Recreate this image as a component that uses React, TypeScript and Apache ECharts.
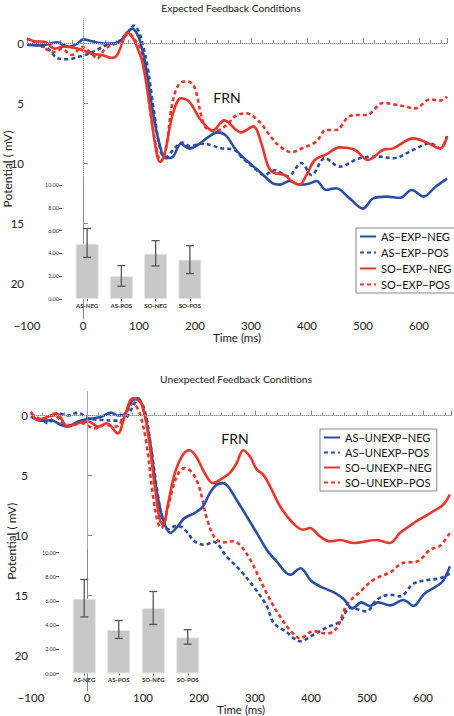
import React, { useEffect, useRef } from "react";
import * as echarts from "echarts";

const FONT = "Lato, 'Noto Sans', sans-serif";
const BLUE = "#2b4ea2";
const RED = "#e8372c";
const AXIS = "#8a8a8a";

// ---------- Expected feedback conditions: [time ms, potential µV] ----------
const expAsNeg = [[-100,0.15],[-80,0.2],[-62,0.1],[-47,-0.05],[-26,0.3],[-10,0.05],[0,-0.3],[16,-0.15],[30,0],[46,0.05],[60,0],[70,-0.3],[80,-0.9],[88,-1.2],[96,-0.8],[103,0],[112,1.9],[124,5.5],[136,8.3],[148,9.6],[160,9.5],[175,8.4],[190,8.8],[208,8.4],[225,7.8],[240,7.45],[255,7.7],[273,8.9],[291,9.75],[315,10.7],[339,11.7],[351,11.8],[369,11.5],[387,11.8],[405,11.7],[417,11.5],[434,12.25],[452,12.1],[476,12.95],[500,13.8],[518,12.95],[542,12.8],[566,12.9],[587,12.25],[608,12.8],[629,12.0],[650,11.3]];
const expAsPos = [[-100,0.15],[-80,0.2],[-62,0.5],[-44,1.3],[-26,1.35],[-8,1.15],[10,0.9],[28,0.5],[46,0.1],[60,0.0],[70,-0.4],[82,-1.0],[91,-1.45],[99,-1.0],[106,0],[115,1.9],[127,5.75],[139,9.1],[148,9.5],[163,8.8],[177,8.3],[192,8.6],[210,8.4],[228,8.5],[246,8.77],[270,8.9],[285,9.6],[303,10.3],[324,11.0],[342,10.6],[366,11.1],[390,10.0],[408,11.0],[432,9.6],[458,10.3],[494,9.6],[530,9.47],[554,9.6],[590,8.9],[620,8.36],[638,8.78],[650,7.75]];
const expSoNeg = [[-100,-0.36],[-86,-0.14],[-68,-0.1],[-50,0.47],[-36,0.3],[-26,0.33],[-8,0.47],[16,0.9],[34,1.0],[52,1.25],[61,1.0],[70,0],[79,-0.9],[88,-0.5],[94,0.05],[106,1.6],[118,4.9],[130,8.8],[137,9.9],[145,9.4],[160,6.0],[175,4.6],[190,4.9],[210,6.4],[232,7.3],[252,6.45],[282,7.45],[304,6.95],[318,8.3],[330,10.2],[340,10.8],[360,11.0],[375,11.6],[387,11.8],[399,11.0],[414,9.75],[434,9.3],[458,8.7],[485,8.9],[509,9.75],[536,8.9],[554,8.78],[590,7.95],[614,8.3],[638,8.78],[650,7.8]];
const expSoPos = [[-100,-0.36],[-80,0.05],[-68,0.47],[-50,0.75],[-38,0.5],[-20,1.0],[-2,0.33],[16,0.9],[25,1.3],[40,0.47],[58,0.05],[70,-0.3],[82,-0.8],[92,-0.3],[103,0.47],[112,2.7],[121,6.0],[133,9.2],[139,9.9],[148,8.8],[160,4.9],[172,3.4],[187,3.2],[199,3.67],[211,6.0],[220,7.1],[238,7.3],[255,6.9],[272,6.1],[291,5.86],[315,6.56],[333,7.67],[351,8.6],[372,9.1],[393,8.75],[417,8.2],[434,7.25],[452,7.25],[476,6.1],[494,6.0],[506,6.0],[536,5.0],[566,5.2],[593,5.45],[620,4.7],[638,4.8],[650,4.47]];

// ---------- Unexpected feedback conditions ----------
const unexpAsNeg = [[-100,0.1],[-82,0.43],[-64,0.4],[-46,0.8],[-34,0.93],[-16,0.5],[2,0.3],[26,0.1],[43,-0.24],[55,0],[67,-0.1],[79,-1.15],[91,-1.43],[100,-0.6],[112,2.0],[124,6.2],[136,8.7],[149,9.8],[162,9.26],[174,8.57],[192,8.15],[207,7.6],[219,6.5],[231,5.8],[243,5.65],[252,5.93],[267,7.04],[285,8.4],[303,9.8],[321,11.2],[339,12.2],[363,13.3],[381,12.75],[400,13.8],[416,14.26],[440,14.75],[458,15.3],[474,16.1],[490,15.6],[505,15.9],[520,15.6],[541,15.85],[565,15.4],[583,15.9],[602,14.9],[624,14.26],[636,13.8],[648,12.6]];
const unexpAsPos = [[-100,0.04],[-76,0.5],[-70,0.65],[-52,-0.18],[-34,0],[-16,-0.24],[2,0.24],[26,0.37],[49,0.43],[67,0.3],[85,-1.0],[91,-1.3],[103,-0.46],[115,2.9],[127,6.76],[136,9.0],[145,9.5],[160,9.2],[174,9.5],[192,10.5],[210,10.8],[226,10.55],[249,11.76],[273,12.9],[297,14.26],[321,15.9],[333,17.3],[357,18.1],[369,18.6],[381,18.85],[401,18.4],[428,17.7],[452,17.2],[470,16.06],[499,16.35],[517,15.4],[541,14.96],[559,15.1],[583,14.04],[613,13.7],[630,13.6],[648,13.2]];
const unexpSoNeg = [[-100,-0.3],[-88,0.37],[-70,0.1],[-55,-0.18],[-34,0.93],[-16,0.65],[2,0.5],[20,0.93],[35,0.65],[55,1.5],[67,0.1],[82,-1.43],[97,-1.0],[109,1.5],[121,5.9],[130,8.7],[136,9.1],[145,7.3],[157,4.8],[171,3.3],[183,2.9],[195,3.43],[210,4.8],[225,5.65],[240,5.3],[255,4.8],[267,4.0],[279,2.9],[291,3.43],[303,4.5],[315,4.96],[327,5.93],[345,7.6],[368,9.0],[386,9.54],[398,9.4],[416,10.1],[434,10.5],[452,10.4],[476,10.65],[517,10.4],[541,10.65],[559,9.8],[583,9.0],[613,8.15],[636,7.45],[648,6.6]];
const unexpSoPos = [[-100,-0.18],[-82,0.3],[-58,0],[-43,0.65],[-28,0.8],[-10,0.65],[14,1.07],[32,0.8],[52,0.93],[67,0],[82,-1.0],[94,-0.18],[106,2.3],[118,6.76],[127,9.0],[133,9.4],[145,7.6],[160,5.1],[174,4.4],[186,4.68],[198,5.65],[206,7.0],[214,8.6],[228,10.2],[243,10.6],[261,10.5],[273,10.8],[291,12.0],[309,13.7],[327,15.4],[345,16.8],[362,17.9],[381,18.6],[404,18.0],[428,18.2],[446,17.75],[464,15.8],[488,14.7],[512,13.7],[541,13.1],[565,12.3],[589,12.2],[613,11.2],[630,10.9],[648,9.8]];

// ---------- Inset bar charts ----------
const barCategories = ["AS-NEG", "AS-POS", "SO-NEG", "SO-POS"];
const expBarMeans = [4.85, 2.0, 3.98, 3.46];
const expBarLow = [3.65, 1.12, 2.9, 2.23];
const expBarHigh = [6.18, 2.93, 5.12, 4.68];
const unexpBarMeans = [6.17, 3.6, 5.4, 2.98];
const unexpBarLow = [4.68, 2.9, 4.05, 2.42];
const unexpBarHigh = [7.77, 4.38, 6.78, 3.62];

const potentialTicks = [0, 5, 10, 15, 20];

const expNames = ["AS\u2212EXP\u2212NEG", "AS\u2212EXP\u2212POS", "SO\u2212EXP\u2212NEG", "SO\u2212EXP\u2212POS"];
const unexpNames = ["AS\u2212UNEXP\u2212NEG", "AS\u2212UNEXP\u2212POS", "SO\u2212UNEXP\u2212NEG", "SO\u2212UNEXP\u2212POS"];

function mainX(g: number) {
  return {
    type: "value", gridIndex: g, min: -100, max: 650, interval: 100,
    axisLine: { show: true, lineStyle: { color: AXIS, width: 1 } },
    axisTick: { show: true, inside: true, length: 5, lineStyle: { color: AXIS } },
    minorTick: { show: true, splitNumber: 5, length: 3, lineStyle: { color: AXIS } },
    splitLine: { show: false },
    minorSplitLine: { show: false },
    axisLabel: {
      fontSize: 11.5, lineHeight: 11, color: "#222", fontFamily: FONT, margin: 1,
      showMinLabel: true, showMaxLabel: true, hideOverlap: false,
      formatter: (v: number) => (v % 100 !== 0 ? "" : v < 0 ? "\u2212" + Math.abs(v) : String(v)),
    },
    name: "Time (ms)", nameLocation: "middle", nameGap: 13, nameMoveOverlap: false,
    nameTextStyle: { fontSize: 11.5, lineHeight: 10, color: "#222", fontFamily: FONT },
  };
}

function mainY(g: number) {
  return {
    type: "value", gridIndex: g, inverse: true, min: -2, max: 23,
    axisLine: { show: true, lineStyle: { color: AXIS, width: 1 } },
    axisTick: { show: true, inside: true, length: 5, customValues: potentialTicks, lineStyle: { color: AXIS } },
    axisLabel: { customValues: potentialTicks, fontSize: 11.5, color: "#222", fontFamily: FONT, margin: 3 },
    splitLine: { show: false },
    name: "Potential ( mV)", nameLocation: "middle", nameGap: 14, nameRotate: 90, nameMoveOverlap: false,
    nameTextStyle: { fontSize: 12, lineHeight: 11, color: "#222", fontFamily: FONT },
  };
}

function insetX(g: number) {
  return {
    type: "category", gridIndex: g, data: barCategories,
    axisLine: { show: false },
    axisTick: { show: true, alignWithLabel: true, length: 2, lineStyle: { color: "#555" } },
    axisLabel: { fontSize: 6, margin: 3, color: "#333", fontWeight: "bold", fontFamily: FONT },
    splitLine: { show: false },
  };
}

function insetY(g: number) {
  return {
    type: "value", gridIndex: g, min: 0, max: 10, interval: 2, offset: 8,
    axisLine: { show: false },
    axisTick: { show: true, length: 3, lineStyle: { color: "#555" } },
    axisLabel: { fontSize: 5.5, margin: 3, color: "#333", fontFamily: FONT, formatter: (v: number) => v.toFixed(2) },
    splitLine: { show: false },
  };
}

function wave(name: string, data: number[][], color: string, dashed: boolean, axis: number, extra?: any) {
  return {
    type: "line", name, data, xAxisIndex: axis, yAxisIndex: axis,
    smooth: 0.35, symbol: "none", showSymbol: false, silent: true,
    lineStyle: { color, width: 2.6, type: dashed ? [4, 3] : "solid" },
    itemStyle: { color },
    z: dashed ? 3 : 4,
    ...(extra || {}),
  };
}

function refLines() {
  return {
    markLine: {
      silent: true, symbol: ["none", "none"], label: { show: false },
      lineStyle: { type: "dotted", color: "#c2c2c2", width: 1 },
      emphasis: { disabled: true },
      data: [{ yAxis: 0 }, [{ coord: [0, -2] }, { coord: [0, 11.2] }]],
    },
  };
}

function bars(means: number[], axis: number) {
  return {
    type: "bar", xAxisIndex: axis, yAxisIndex: axis, data: means, barWidth: 23, silent: true,
    itemStyle: { color: "#c8c8c8", borderColor: "#e4e4e4", borderWidth: 1 }, z: 5,
  };
}

function errorBars(lo: number[], hi: number[], axis: number) {
  return {
    type: "custom", xAxisIndex: axis, yAxisIndex: axis, silent: true, z: 10,
    data: lo.map((l, i) => [i, l, hi[i]]),
    encode: { x: 0, y: [1, 2] },
    renderItem: (_p: any, api: any) => {
      const i = api.value(0);
      const a = api.coord([i, api.value(1)]);
      const b = api.coord([i, api.value(2)]);
      const w = 4;
      const style = { stroke: "#555", lineWidth: 1.3 };
      return {
        type: "group",
        children: [
          { type: "line", shape: { x1: a[0], y1: a[1], x2: b[0], y2: b[1] }, style },
          { type: "line", shape: { x1: a[0] - w, y1: a[1], x2: a[0] + w, y2: a[1] }, style },
          { type: "line", shape: { x1: b[0] - w, y1: b[1], x2: b[0] + w, y2: b[1] }, style },
        ],
      };
    },
  };
}

function legend(names: string[], left: number, top: number, gap: number) {
  return {
    data: names, orient: "vertical", left, top, selectedMode: false,
    itemWidth: 16, itemHeight: 8, itemGap: gap,
    padding: [2, 5, 2, 3],
    borderColor: "#888", borderWidth: 1, backgroundColor: "#fff",
    itemStyle: { color: "rgba(0,0,0,0)", borderWidth: 0, opacity: 0 },
    textStyle: { fontSize: 11, lineHeight: 13, fontFamily: FONT, color: "#111" },
  };
}

function grid(left: number, top: number, width: number, height: number) {
  return { left, top, width, height, containLabel: false, outerBoundsMode: "none" };
}

export default function App() {
  const ref = useRef<HTMLDivElement>(null);
  useEffect(() => {
    if (!ref.current) return;
    const chart = echarts.init(ref.current, null, { renderer: "svg" });
    chart.setOption({
      animation: false,
      backgroundColor: "#fff",
      grid: [
        grid(27, 19, 420, 300),
        grid(70, 185, 137, 114),
        grid(31, 391.5, 420, 299.5),
        grid(67, 552.5, 138, 121),
      ],
      xAxis: [mainX(0), insetX(1), mainX(2), insetX(3)],
      yAxis: [mainY(0), insetY(1), mainY(2), insetY(3)],
      legend: [legend(expNames, 356, 228, 3), legend(unexpNames, 320, 429, 2)],
      graphic: [
        { type: "text", x: 231, y: 7.5, style: { text: "Expected Feedback Conditions", fontSize: 10.3, fontFamily: FONT, fill: "#222", align: "center", verticalAlign: "middle" } },
        { type: "text", x: 236, y: 379, style: { text: "Unexpected Feedback Conditions", fontSize: 10.3, fontFamily: FONT, fill: "#222", align: "center", verticalAlign: "middle" } },
        { type: "text", x: 227, y: 97, style: { text: "FRN", fontSize: 14, fontFamily: FONT, fill: "#111", align: "center", verticalAlign: "middle" } },
        { type: "text", x: 235, y: 438, style: { text: "FRN", fontSize: 14, fontFamily: FONT, fill: "#111", align: "center", verticalAlign: "middle" } },
      ],
      series: [
        wave(expNames[0], expAsNeg, BLUE, false, 0, refLines()),
        wave(expNames[1], expAsPos, BLUE, true, 0),
        wave(expNames[2], expSoNeg, RED, false, 0),
        wave(expNames[3], expSoPos, RED, true, 0),
        bars(expBarMeans, 1),
        errorBars(expBarLow, expBarHigh, 1),
        wave(unexpNames[0], unexpAsNeg, BLUE, false, 2, refLines()),
        wave(unexpNames[1], unexpAsPos, BLUE, true, 2),
        wave(unexpNames[2], unexpSoNeg, RED, false, 2),
        wave(unexpNames[3], unexpSoPos, RED, true, 2),
        bars(unexpBarMeans, 3),
        errorBars(unexpBarLow, unexpBarHigh, 3),
      ],
    });
    return () => chart.dispose();
  }, []);
  return <div ref={ref} style={{ position: "absolute", left: 0, top: 0, width: 454, height: 716 }} />;
}
